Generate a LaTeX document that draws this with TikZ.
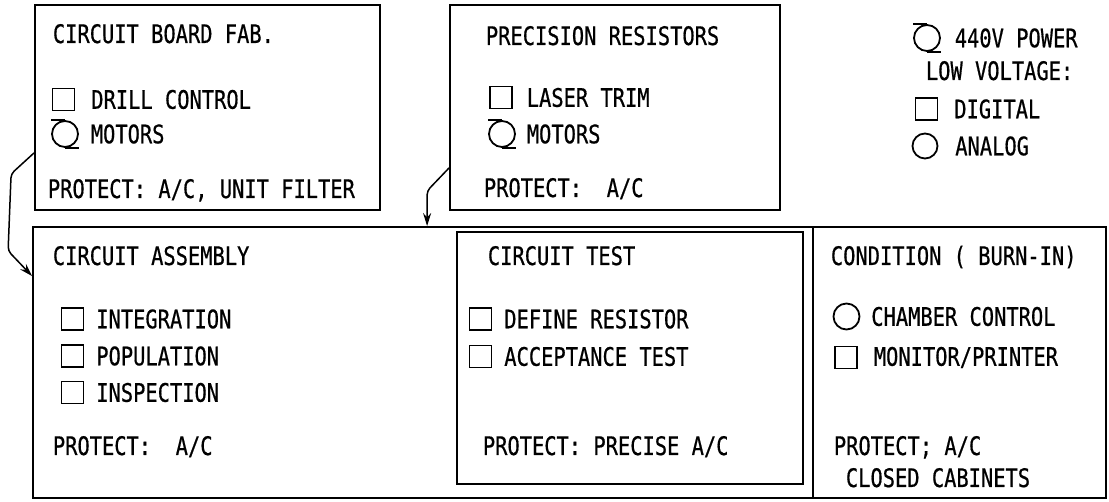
\documentclass[tikz,border=0pt]{standalone}
\usepackage{fontspec}
\setmainfont{DejaVu Sans Mono}[FakeStretch=0.8,FakeBold=0.6]
\usetikzlibrary{positioning,arrows.meta}

\begin{document}
\begin{tikzpicture}[
  x=1pt, y=1pt, line width=1.8pt,
  font=\fontsize{25.5pt}{30pt}\selectfont,
  >={Stealth[length=13pt,width=8pt]},
  frame/.style={draw, inner sep=0pt},
  lbl/.style={anchor=base west, inner sep=0pt},
  item/.style={inner sep=0pt},
  sq/.style={draw, inner sep=0pt, minimum size=22pt},
  rnd/.style={draw, circle, inner sep=0pt, minimum size=26pt},
  flow/.style={->, line width=1.5pt, rounded corners=4pt},
  pics/motor/.style={code={
    \node[rnd] (-c) {};
    \draw (-c.north) -- ++(-14pt,0pt);
    \draw (-c.south) -- ++(14pt,0pt);
  }}
]
\useasboundingbox (0,0) rectangle (1109,502);

% boxes
\node[frame, minimum width=345pt, minimum height=205pt] (fab) at (207.5,394.5) {};
\node[frame, minimum width=330pt, minimum height=205pt] (prec) at (615,394.5) {};
\node[frame, minimum width=1073pt, minimum height=271pt] (floor) at (569.5,139.5) {};
\node[frame, minimum width=346pt, minimum height=252pt] (test) at (630,144) {};
\node[frame, minimum width=293pt, minimum height=271pt] (cond) at (959.5,139.5) {};

% circuit board fab
\node[lbl] (fabT) at (52,459) {CIRCUIT BOARD FAB.};
\node[sq] (fabS) at (63.5,402.5) {};
\node[item, right=15pt of fabS] {DRILL CONTROL};
\pic (fabM) at (65,368) {motor};
\node[item, right=11pt of fabM-c] {MOTORS};
\node[lbl] (fabP) at (47,304) {PROTECT: A/C, UNIT FILTER};

% precision resistors
\node[lbl] (precT) at (485,457) {PRECISION RESISTORS};
\node[sq] (precS) at (501,404.5) {};
\node[item, right=13pt of precS] {LASER TRIM};
\pic (precM) at (502,368) {motor};
\node[item, right=10pt of precM-c] {MOTORS};
\node[lbl] (precP) at (483,305) {PROTECT:\ \ A/C};

% legend
\pic (keyM) at (927,464) {motor};
\node[item, right=13pt of keyM-c] {440V POWER};
\node[lbl] (keyL) at (925,422) {LOW VOLTAGE:};
\node[sq] (keyS) at (926.5,393) {};
\node[item, right=15pt of keyS] {DIGITAL};
\node[rnd, minimum size=25pt] (keyC) at (925,356) {};
\node[item, right=16pt of keyC] {ANALOG};

% circuit assembly
\node[lbl] (asmT) at (52,237) {CIRCUIT ASSEMBLY};
\node[sq] (asm1) at (72.5,183) {};
\node[sq] (asm2) at (72.5,146) {};
\node[sq] (asm3) at (72.5,109.5) {};
\node[item, right=11pt of asm1] {INTEGRATION};
\node[item, right=11pt of asm2] {POPULATION};
\node[item, right=11pt of asm3] {INSPECTION};
\node[lbl] (asmP) at (52,47) {PROTECT:\ \ A/C};

% circuit test
\node[lbl] (testT) at (487,237) {CIRCUIT TEST};
\node[sq] (test1) at (480.5,183) {};
\node[sq] (test2) at (480.5,145.5) {};
\node[item, right=11pt of test1] {DEFINE RESISTOR};
\node[item, right=11pt of test2] {ACCEPTANCE TEST};
\node[lbl] (testP) at (482,47) {PROTECT: PRECISE A/C};

% condition
\node[lbl] (condT) at (830,237) {CONDITION ( BURN-IN)};
\node[rnd] (cond1) at (846.5,185.5) {};
\node[sq] (cond2) at (846,144.5) {};
\node[item, right=10pt of cond1] {CHAMBER CONTROL};
\node[item, right=15pt of cond2] {MONITOR/PRINTER};
\node[lbl] (condP) at (833,47) {PROTECT; A/C};
\node[lbl] (condC) at (845,15) {CLOSED CABINETS};

% flows
\draw[flow] ([yshift=58pt]fab.south west) -- ++(-23pt,-21pt)
  -- ++(-3pt,-77pt) -- ([yshift=-50pt]floor.north west);
\draw[flow] ([yshift=43pt]prec.south west) -- ++(-22pt,-23pt)
  -- ([xshift=395pt]floor.north west);
\end{tikzpicture}
\end{document}
